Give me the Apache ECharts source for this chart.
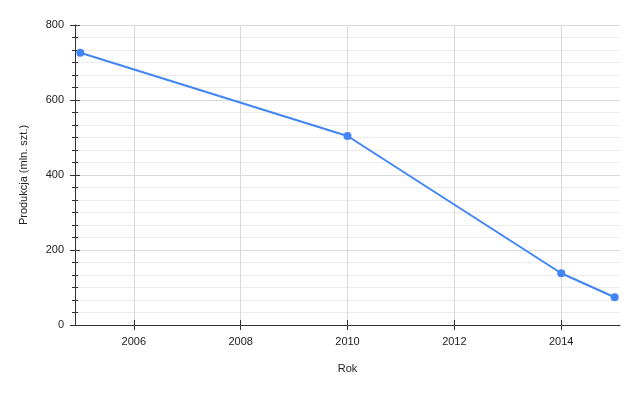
<!DOCTYPE html>
<html><head><meta charset="utf-8">
<script src="https://cdn.jsdelivr.net/npm/echarts@6/dist/echarts.min.js"></script>
<style>html,body{margin:0;padding:0;background:#fff}#c{width:640px;height:395px}</style>
</head><body><div id="c"></div>
<script>
const years = [2005, 2010, 2014, 2015];
const production = [726, 504, 138, 74];
const xTicks = [2006, 2008, 2010, 2012, 2014];
const xName = 'Rok';
const yName = 'Produkcja (mln. szt.)';

const font = 'Liberation Sans, Arial, sans-serif';
const chart = echarts.init(document.getElementById('c'));
const xBase = {
  type: 'value', min: 2004.9, max: 2015.1, position: 'bottom'
};
const yBase = { type: 'value', min: 0, max: 800, interval: 200, position: 'left' };
chart.setOption({
  animation: false,
  grid: { left: 75, right: 20, top: 25, bottom: 70, containLabel: false },
  xAxis: [
    Object.assign({}, xBase, {
      name: xName, nameLocation: 'middle', nameGap: 38,
      nameTextStyle: { color: '#222', fontSize: 11, fontFamily: font },
      axisLine: { show: true, lineStyle: { color: '#333', width: 1 } },
      axisTick: { show: true, length: 5, customValues: xTicks, lineStyle: { color: '#333' } },
      axisLabel: { show: true, customValues: xTicks, color: '#222', fontSize: 11, fontFamily: font, margin: 11,
        formatter: v => String(v) },
      splitLine: { show: true, lineStyle: { color: '#d9d9d9', width: 1 } }
    }),
    Object.assign({}, xBase, {
      axisLine: { show: false },
      axisTick: { show: true, inside: true, length: 5, customValues: xTicks, lineStyle: { color: '#333' } },
      axisLabel: { show: false },
      splitLine: { show: false }
    })
  ],
  yAxis: [
    Object.assign({}, yBase, {
      name: yName, nameLocation: 'middle', nameGap: 46,
      nameTextStyle: { color: '#222', fontSize: 11, fontFamily: font },
      axisLine: { show: true, lineStyle: { color: '#333', width: 1 } },
      axisTick: { show: true, length: 5, lineStyle: { color: '#333' } },
      minorTick: { show: true, splitNumber: 6, length: 3, lineStyle: { color: '#333' } },
      axisLabel: { color: '#222', fontSize: 11, fontFamily: font, margin: 11 },
      splitLine: { show: true, lineStyle: { color: '#d9d9d9', width: 1 } },
      minorSplitLine: { show: true, lineStyle: { color: '#ececec', width: 1 } }
    }),
    Object.assign({}, yBase, {
      axisLine: { show: false },
      axisTick: { show: true, inside: true, length: 5, lineStyle: { color: '#333' } },
      minorTick: { show: true, splitNumber: 6, length: 3, lineStyle: { color: '#333' } },
      axisLabel: { show: false },
      splitLine: { show: false }
    })
  ],
  series: [{
    type: 'line',
    data: years.map((y, i) => [y, production[i]]),
    xAxisIndex: 0, yAxisIndex: 0,
    symbol: 'circle', symbolSize: 8,
    lineStyle: { color: '#4285f4', width: 2 },
    itemStyle: { color: '#4285f4' }
  }]
});
</script></body></html>
